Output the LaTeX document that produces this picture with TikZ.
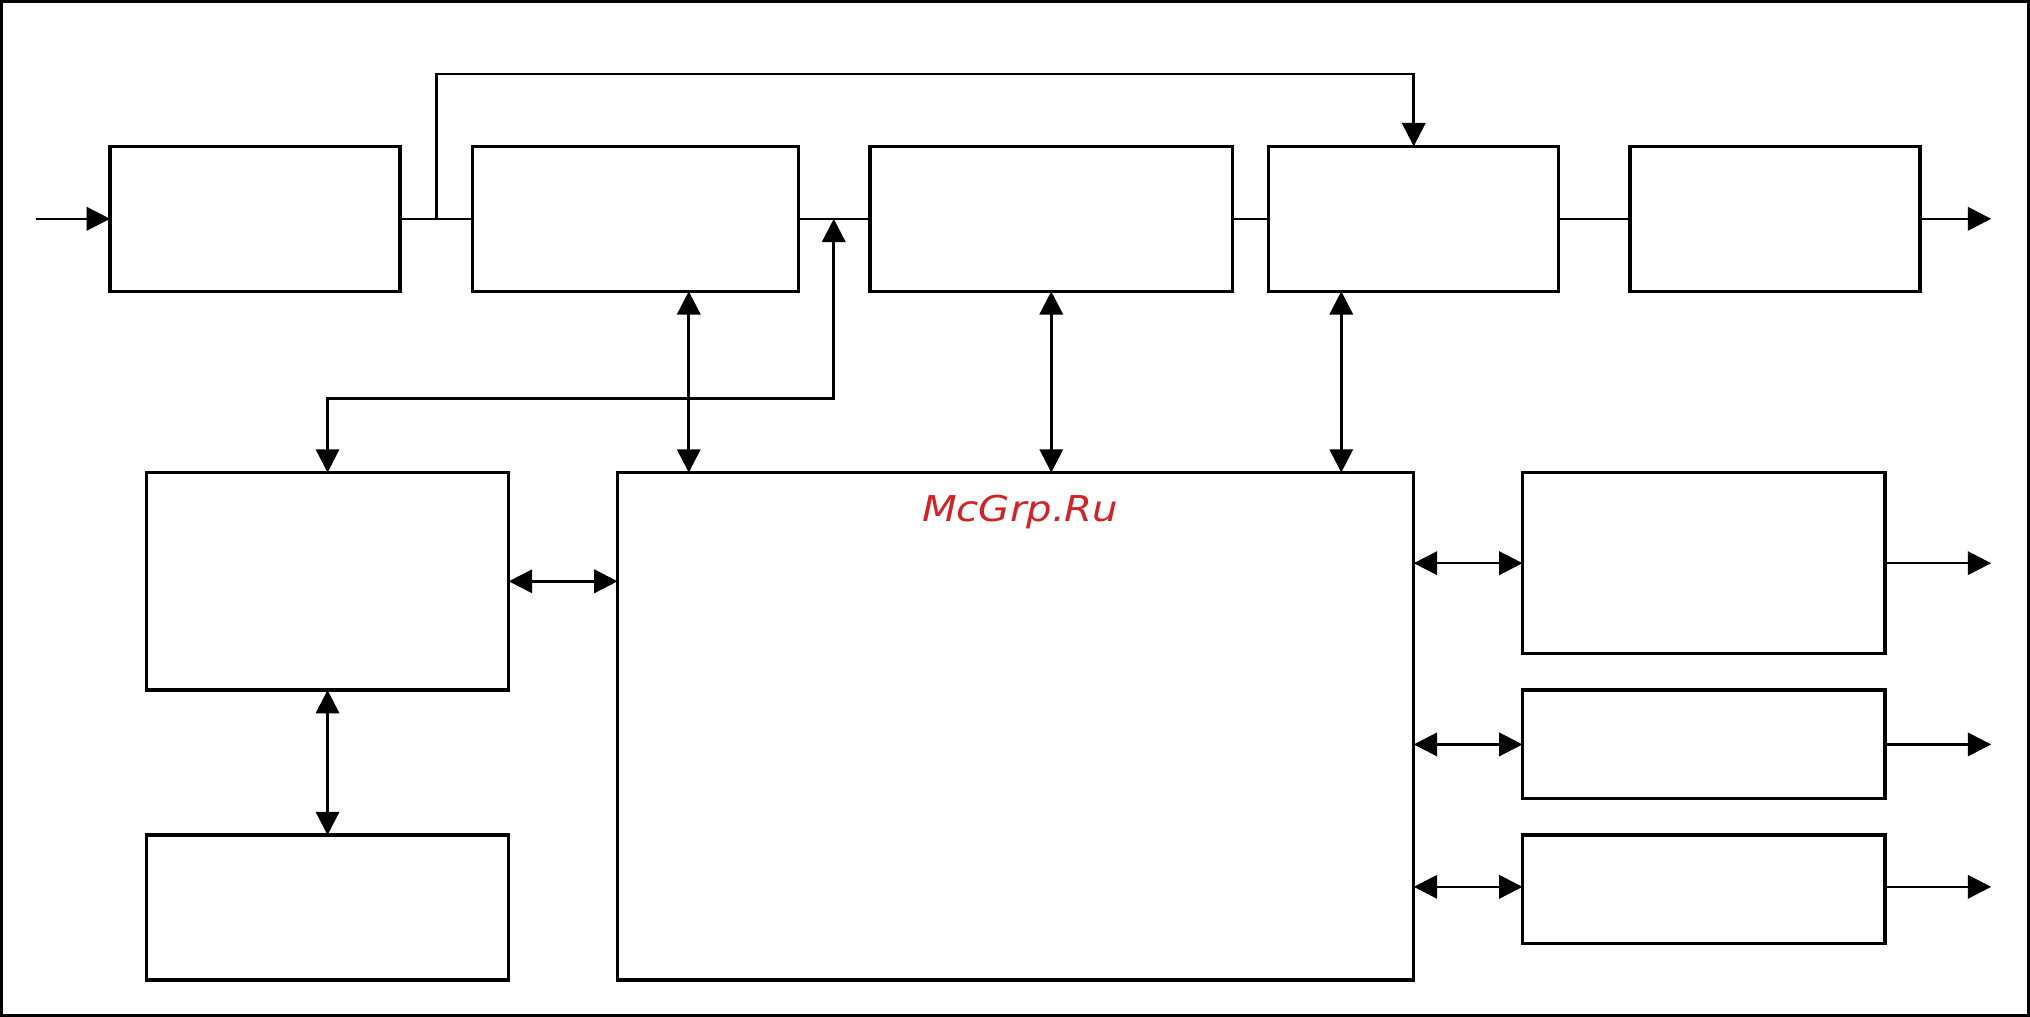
\documentclass[tikz,border=0pt]{standalone}
\usepackage{fontspec}
\newfontfamily\wmfont{DejaVu Sans}
\usetikzlibrary{arrows.meta}
\definecolor{wmred}{RGB}{210,35,40}
\tikzset{
  blk/.style={draw=black, line width=2.5pt, fill=none, inner sep=0pt, outer sep=0pt, anchor=north west},
  wire/.style={draw=black, line width=2pt},
  arr/.style={wire, -{Triangle[length=18pt,width=18pt]}},
  darr/.style={wire, {Triangle[length=18pt,width=18pt]}-{Triangle[length=18pt,width=18pt]}},
  frame/.style={draw=black, line width=2.5pt},
  wmark/.style={text=wmred, font=\wmfont\itshape\fontsize{27.5}{30}\selectfont, inner sep=0pt, anchor=base}
}
\begin{document}
\begin{tikzpicture}[x=1pt,y=-1pt]
\useasboundingbox (0,0) rectangle (1568,785.5);
\draw[frame] (1.25,1.25) rectangle (1566.75,784.25);

% top row
\node[blk, minimum width=224pt, minimum height=112pt] (B1) at (85,113) {};
\node[blk, minimum width=252pt, minimum height=112pt] (B2) at (365,113) {};
\node[blk, minimum width=280pt, minimum height=112pt] (B3) at (672,113) {};
\node[blk, minimum width=224pt, minimum height=112pt] (B4) at (980,113) {};
\node[blk, minimum width=224pt, minimum height=112pt] (B5) at (1259,113) {};
% left column
\node[blk, minimum width=280pt, minimum height=168pt] (L1) at (113,365) {};
\node[blk, minimum width=280pt, minimum height=112pt] (L2) at (113,645) {};
% big block
\node[blk, minimum width=615pt, minimum height=392pt] (BIG) at (477,365) {};
% right column
\node[blk, minimum width=280pt, minimum height=140pt] (R1) at (1176,365) {};
\node[blk, minimum width=280pt, minimum height=84pt] (R2) at (1176,533) {};
\node[blk, minimum width=280pt, minimum height=84pt] (R3) at (1176,645) {};

\node[wmark] (wm) at (788,403) {\scalebox{1.13}[1]{McGrp.Ru}};

% helper coordinates
\coordinate (in) at (28,169);
\coordinate (outx) at (1538,0);
\coordinate (j1) at (337,169);
\coordinate (t1) at (337,57);
\coordinate (j2) at (644,169);
\coordinate (c2) at (644,308);
\coordinate (v1) at (532,0);
\coordinate (v4) at (1036,0);
\coordinate (r3in) at ([yshift=2pt]R3.west);
\coordinate (r3out) at ([yshift=2pt]R3.east);

% top chain
\draw[arr] (B1.west -| in) -- (B1.west);
\draw[wire] (B1.east) -- (B2.west);
\draw[arr] (j1) -- (t1) -| (B4.north);
\draw[wire] (B2.east) -- (B3.west);
\draw[darr] (L1.north) |- (c2) -- (j2);
\draw[wire] (B3.east) -- (B4.west);
\draw[wire] (B4.east) -- (B5.west);
\draw[arr] (B5.east) -- (B5.east -| outx);

% vertical links to big block
\draw[darr] (B2.south -| v1) -- (BIG.north -| v1);
\draw[darr] (B3.south) -- (B3.south |- BIG.north);
\draw[darr] (B4.south -| v4) -- (BIG.north -| v4);

% left links
\draw[darr] (L1.east) -- (L1.east -| BIG.west);
\draw[darr] (L1.south) -- (L2.north);

% right links
\draw[darr] (R1.west -| BIG.east) -- (R1.west);
\draw[darr] (R2.west -| BIG.east) -- (R2.west);
\draw[darr] (r3in -| BIG.east) -- (r3in);
\draw[arr] (R1.east) -- (R1.east -| outx);
\draw[arr] (R2.east) -- (R2.east -| outx);
\draw[arr] (r3out) -- (r3out -| outx);
\end{tikzpicture}
\end{document}
